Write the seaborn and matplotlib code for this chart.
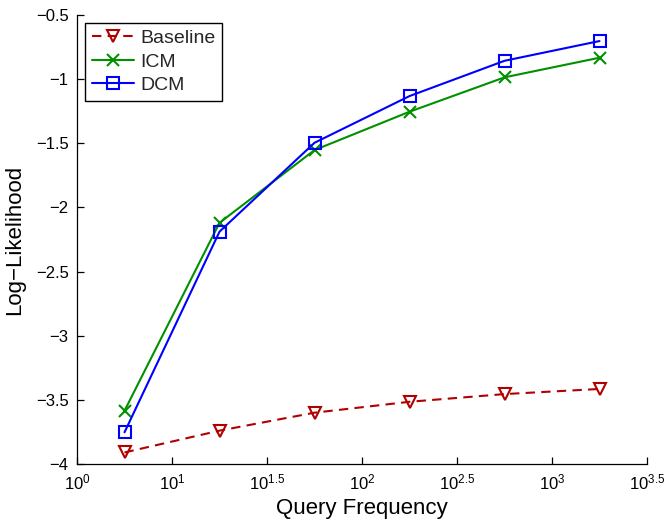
import numpy as np
import pandas as pd
import matplotlib
matplotlib.use("Agg")
import matplotlib.pyplot as plt
import seaborn as sns
from matplotlib.ticker import FixedLocator, FixedFormatter, NullLocator

# ---- data ----
query_freq = [10**0.75, 10**1.25, 10**1.75, 10**2.25, 10**2.75, 10**3.25]
baseline = [-3.91, -3.74, -3.60, -3.515, -3.455, -3.415]
icm = [-3.585, -2.12, -1.553, -1.254, -0.986, -0.833]
dcm = [-3.753, -2.189, -1.496, -1.132, -0.857, -0.703]

x_tick_exps = [0.5, 1.0, 1.5, 2.0, 2.5, 3.0, 3.5]
x_tick_labels = ["$10^{0}$", "$10^{1}$", "$10^{1.5}$", "$10^{2}$",
                 "$10^{2.5}$", "$10^{3}$", "$10^{3.5}$"]
y_ticks = [-4, -3.5, -3, -2.5, -2, -1.5, -1, -0.5]

sns.set_theme(style="white")
plt.rcParams['font.family'] = ['Liberation Sans', 'DejaVu Sans']
plt.rcParams['mathtext.default'] = 'regular'

df = pd.DataFrame({
    "freq": query_freq * 3,
    "ll": baseline + icm + dcm,
    "method": ["Baseline"] * 6 + ["ICM"] * 6 + ["DCM"] * 6,
})

fig = plt.figure(figsize=(6.68, 5.25), dpi=100)
ax = fig.add_axes([77 / 668, 61 / 525, (647 - 77) / 668, (464 - 15) / 525])

styles = {
    "Baseline": dict(color="#B00000", marker="v", ls=(0, (4.5, 3))),
    "ICM": dict(color="#009000", marker="x", ls="-"),
    "DCM": dict(color="#0000FF", marker="s", ls="-"),
}
for name, st in styles.items():
    sub = df[df["method"] == name]
    kw = dict(markersize=8, markeredgewidth=1.5, markeredgecolor=st["color"])
    if st["marker"] != "x":
        kw["markerfacecolor"] = "none"
    else:
        kw["markersize"] = 9
    sns.lineplot(data=sub, x="freq", y="ll", ax=ax, color=st["color"],
                 marker=st["marker"], linestyle=st["ls"], linewidth=1.5,
                 label=name, **kw)

ax.set_xscale("log")
ax.set_xlim(10**0.5, 10**3.5)
ax.set_ylim(-4, -0.5)
ax.xaxis.set_major_locator(FixedLocator([10**e for e in x_tick_exps]))
ax.xaxis.set_major_formatter(FixedFormatter(x_tick_labels))
ax.xaxis.set_minor_locator(NullLocator())
ax.set_yticks(y_ticks)
ax.set_yticklabels([("%g" % v).replace("-", "\u2212") for v in y_ticks])

for s in ["top", "right"]:
    ax.spines[s].set_visible(False)
for s in ["left", "bottom"]:
    ax.spines[s].set_color("black")
    ax.spines[s].set_linewidth(0.9)

ax.tick_params(axis="both", which="major", direction="in", length=5,
               width=0.9, color="black", labelsize=12, labelcolor="black",
               bottom=True, left=True, pad=6)

ax.set_xlabel("Query Frequency", fontsize=16, color="black", labelpad=4)
ax.set_ylabel("Log\u2212Likelihood", fontsize=16, color="black", labelpad=8)

leg = ax.legend(loc="upper left", fontsize=14, frameon=True, fancybox=False,
                edgecolor="black", framealpha=1, borderpad=0.35,
                labelspacing=0.3, handlelength=2.2, handletextpad=0.3,
                borderaxespad=0.4)
leg.get_frame().set_linewidth(1.0)

fig.savefig("out.png", dpi=100)
